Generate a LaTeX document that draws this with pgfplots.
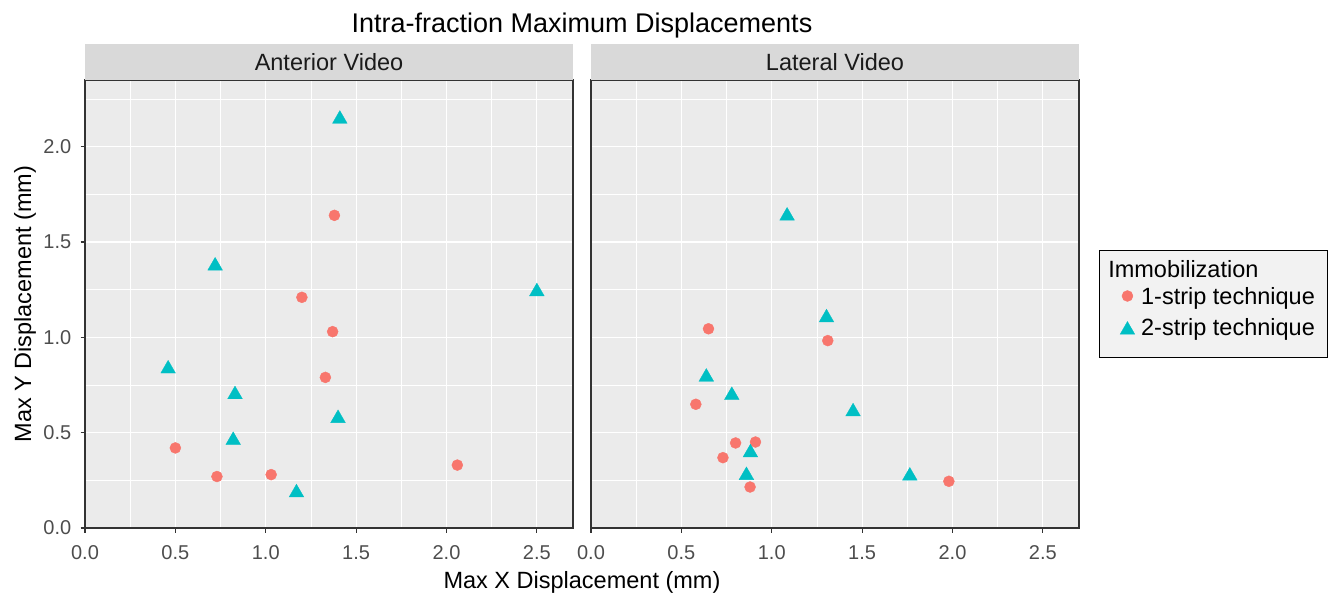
\documentclass[border=0pt]{standalone}
\usepackage{fontspec}
\setmainfont{Liberation Sans}
\usepackage{pgfplots}
\pgfplotsset{compat=1.18}
\definecolor{ggred}{HTML}{F8766D}
\definecolor{ggcyan}{HTML}{00BFC4}
\definecolor{panelbg}{HTML}{EBEBEB}
\definecolor{stripbg}{HTML}{D9D9D9}
\definecolor{bordercol}{HTML}{333333}
\definecolor{ticktext}{HTML}{4D4D4D}
\definecolor{striptext}{HTML}{1A1A1A}
\definecolor{legbg}{HTML}{F2F2F2}
\newcommand{\fs}[1]{\fontsize{#1bp}{#1bp}\selectfont}

\pgfplotstableread{
x y
1.38 1.64
1.20 1.21
1.37 1.03
1.33 0.79
0.50 0.42
0.73 0.27
1.03 0.28
2.06 0.33
}\antone
\pgfplotstableread{
x y
1.41 2.145
0.72 1.375
2.50 1.240
0.46 0.835
0.83 0.700
1.40 0.575
0.82 0.460
1.17 0.185
}\anttwo
\pgfplotstableread{
x y
0.65 1.045
1.31 0.983
0.58 0.649
0.80 0.446
0.91 0.451
0.73 0.369
0.88 0.215
1.98 0.245
}\latone
\pgfplotstableread{
x y
1.085 1.637
1.303 1.103
0.638 0.792
0.779 0.696
1.450 0.610
0.882 0.395
0.860 0.276
1.764 0.273
}\lattwo

\pgfplotsset{
  panel/.style={
    scale only axis, width=488bp, height=448bp,
    anchor=south west,
    xmin=0, xmax=2.7, ymin=0, ymax=2.35,
    axis background/.style={fill=panelbg},
    axis line style={draw=bordercol, line width=1.1bp},
    xtick={0,0.5,1,1.5,2,2.5},
    ytick={0,0.5,1,1.5,2},
    xticklabels={0.0,0.5,1.0,1.5,2.0,2.5},
    yticklabels={0.0,0.5,1.0,1.5,2.0},
    minor xtick={0.25,0.75,1.25,1.75,2.25},
    minor ytick={0.25,0.75,1.25,1.75,2.25},
    grid=both,
    major grid style={draw=white, line width=1.1bp},
    minor grid style={draw=white, line width=0.55bp},
    tick align=outside,
    major tick length=4.5bp, minor tick length=0bp,
    tick pos=left,
    major tick style={draw=bordercol, line width=1.1bp},
    minor tick style={draw=none},
    xticklabel style={font=\fs{20}, text=ticktext, inner sep=0pt, anchor=base, yshift=-26.8bp},
    yticklabel style={font=\fs{20}, text=ticktext, inner sep=0pt, anchor=east, xshift=-9bp},
  },
  onestrip/.style={only marks, mark=*, mark size=5.5bp, color=ggred,
    mark options={fill=ggred, draw=ggred, line width=0.4bp}},
  twostrip/.style={only marks, mark=triangle*, mark size=8.5bp, color=ggcyan,
    mark options={fill=ggcyan, draw=ggcyan, line width=0.3bp}},
  legone/.style={legend image code/.code={\path[draw=none,fill=none] (0bp,-6bp) rectangle (29.1bp,6bp); \draw[##1] plot coordinates {(15.4bp,8bp)};}},
  legtwo/.style={legend image code/.code={\path[draw=none,fill=none] (0bp,-6bp) rectangle (29.1bp,6bp); \draw[##1] plot coordinates {(15.4bp,5bp)};}},
}

\begin{document}
\begin{tikzpicture}
\path[use as bounding box] (0,0) rectangle (1329bp,593bp);

\begin{axis}[panel, at={(85bp,65bp)}]
  \addplot[onestrip] table {\antone};
  \addplot[twostrip] table {\anttwo};
\end{axis}

\begin{axis}[panel, at={(591bp,65bp)}, yticklabels={}, ytick style={draw=none},
  legend style={at={(1,0.5)}, anchor=west, xshift=20bp, draw=black, fill=legbg,
    line width=0.9bp, inner xsep=12.6bp, inner ysep=8bp, font=\fs{23.5},
    nodes={inner sep=0pt, text height=15bp, text depth=14bp},
    row sep=2bp, column sep=0pt},
  legend cell align=left]
  \addlegendimage{empty legend}
  \addlegendentry{\hspace*{-32.9bp}\raisebox{-4.5bp}{Immobilization}}
  \addplot[onestrip, legone] table {\latone};
  \addlegendentry{1-strip technique}
  \addplot[twostrip, legtwo] table {\lattwo};
  \addlegendentry{2-strip technique}
\end{axis}

% facet strips
\fill[stripbg] (85bp,513bp) rectangle (573bp,548.5bp);
\fill[stripbg] (591bp,513bp) rectangle (1079bp,548.5bp);
\node[anchor=base, font=\fs{23.5}, text=striptext, inner sep=0pt] at (329bp,522.3bp) {Anterior Video};
\node[anchor=base, font=\fs{23.5}, text=striptext, inner sep=0pt] at (835bp,522.3bp) {Lateral Video};

% titles
\node[anchor=base, font=\fs{27}, inner sep=0pt] at (582bp,560bp) {Intra-fraction Maximum Displacements};
\node[anchor=base, font=\fs{23.5}, inner sep=0pt] at (582bp,4.7bp) {Max X Displacement (mm)};
\node[anchor=base, rotate=90, font=\fs{23.5}, inner sep=0pt] at (31bp,289bp) {Max Y Displacement (mm)};
\end{tikzpicture}
\end{document}
